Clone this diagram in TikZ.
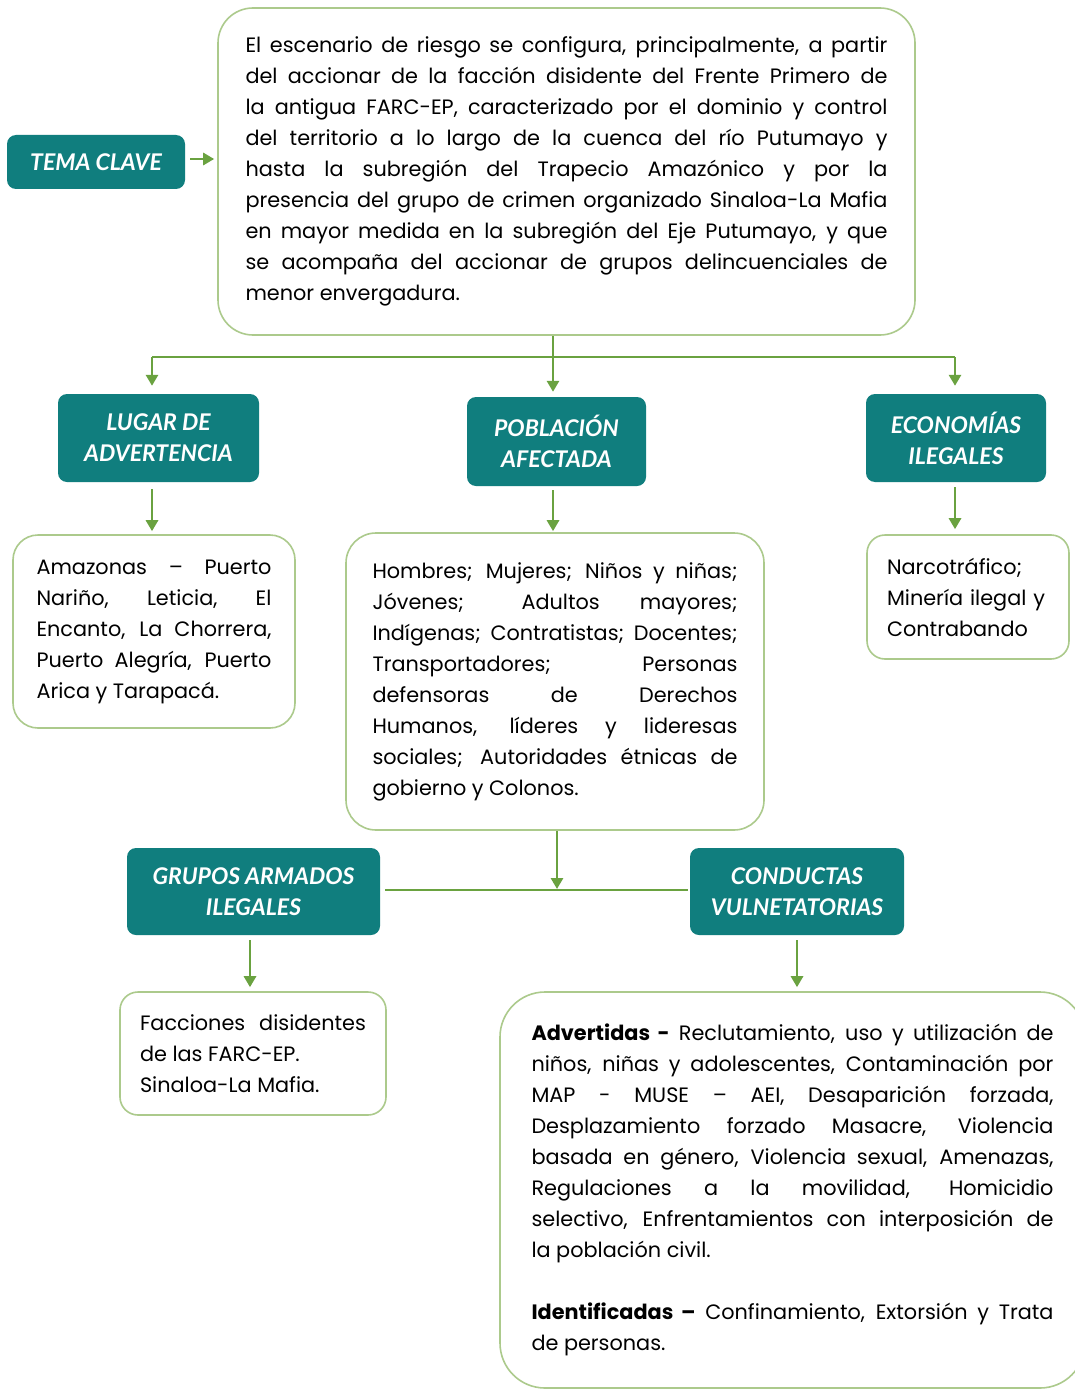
\documentclass[tikz,border=0pt]{standalone}
\usepackage{fontspec}
\setmainfont{Poppins}
\newfontfamily\headfont{Lato}
\usetikzlibrary{arrows.meta}
\definecolor{teal1}{RGB}{16,126,126}
\definecolor{arrowgreen}{RGB}{106,162,64}
\definecolor{boxgreen}{RGB}{172,202,140}
\tolerance=10000
\hyphenpenalty=10000
\begin{document}
\begin{tikzpicture}[x=1pt,y=-1pt,
 head/.style={fill=teal1, rounded corners=9pt, text=white, font=\headfont\bfseries\itshape\fontsize{23}{31}\selectfont, align=center, inner sep=0pt},
 txtbox/.style={draw=boxgreen, line width=1.6pt, fill=white, font=\fontsize{20.8}{31}\selectfont, align=justify, inner xsep=0pt, inner ysep=0pt},
 arr/.style={draw=arrowgreen, line width=2.8pt, -{Triangle[width=12pt,length=11pt]}},
 ln/.style={draw=arrowgreen, line width=2.8pt}]
\useasboundingbox (0,0) rectangle (1075,1391);
\clip (0,0) rectangle (1075,1391);
\fill[white] (0,0) rectangle (1075,1391);

% header boxes
\node[head, minimum width=178pt, minimum height=54pt] (tema) at (96,162) {TEMA CLAVE};
\node[head, minimum width=201pt, minimum height=88pt] (lugar) at (158.5,438) {LUGAR DE\\ADVERTENCIA};
\node[head, minimum width=179pt, minimum height=89pt] (pob) at (556.5,441.5) {POBLACIÓN\\AFECTADA};
\node[head, minimum width=180pt, minimum height=88pt] (eco) at (956,438) {ECONOMÍAS\\ILEGALES};
\node[head, minimum width=253pt, minimum height=87pt] (grupos) at (253.5,891.5) {GRUPOS ARMADOS\\ILEGALES};
\node[head, minimum width=214pt, minimum height=87pt] (conductas) at (797,891.5) {CONDUCTAS\\VULNETATORIAS};

% text boxes
\node[txtbox, rounded corners=35pt, minimum width=697pt, minimum height=327pt, text width=642pt] (top) at (566.5,171.5)
{El escenario de riesgo se configura, principalmente, a partir\linebreak
del accionar de la facción disidente del Frente Primero de\linebreak
la antigua FARC-EP, caracterizado por el dominio y control\linebreak
del territorio a lo largo de la cuenca del río Putumayo y\linebreak
hasta la subregión del Trapecio Amazónico y por la\linebreak
presencia del grupo de crimen organizado Sinaloa-La Mafia\linebreak
en mayor medida en la subregión del Eje Putumayo, y que\linebreak
se acompaña del accionar de grupos delincuenciales de\linebreak
menor envergadura.};

\node[txtbox, rounded corners=25pt, minimum width=282pt, minimum height=193pt, text width=235pt] (amaz) at (154,631.5)
{Amazonas – Puerto\linebreak
Nariño, Leticia, El\linebreak
Encanto, La Chorrera,\linebreak
Puerto Alegría, Puerto\linebreak
Arica y Tarapacá.};

\node[txtbox, rounded corners=30pt, minimum width=418pt, minimum height=297pt, text width=365pt] (homb) at (555,681.5)
{Hombres; Mujeres; Niños y niñas;\linebreak
Jóvenes; Adultos mayores;\linebreak
Indígenas; Contratistas; Docentes;\linebreak
Transportadores; Personas\linebreak
defensoras de Derechos\linebreak
Humanos, líderes y lideresas\linebreak
sociales; Autoridades étnicas de\linebreak
gobierno y Colonos.};

\node[txtbox, align=left, rounded corners=18pt, minimum width=202pt, minimum height=124pt, text width=162pt] (narco) at (968,597)
{Narcotráfico;\\ Minería ilegal y\\ Contrabando};

\node[txtbox, rounded corners=18pt, minimum width=266pt, minimum height=123pt, text width=226pt] (facc) at (253,1053.5)
{Facciones disidentes\linebreak
de las FARC-EP.\newline
Sinaloa-La Mafia.};

\node[txtbox, rounded corners=45pt, minimum width=585pt, minimum height=396pt, text width=522pt] (cond) at (792.5,1190)
{\textbf{Advertidas -} Reclutamiento, uso y utilización de\linebreak
niños, niñas y adolescentes, Contaminación por\linebreak
MAP - MUSE – AEI, Desaparición forzada,\linebreak
Desplazamiento forzado Masacre, Violencia\linebreak
basada en género, Violencia sexual, Amenazas,\linebreak
Regulaciones a la movilidad, Homicidio\linebreak
selectivo, Enfrentamientos con interposición de\linebreak
la población civil.\par\vskip31pt
\textbf{Identificadas –} Confinamiento, Extorsión y Trata\linebreak
de personas.};

% helper coordinates
\coordinate (j1) at (553,357);
\coordinate (hl) at (152,357);
\coordinate (hr) at (955,357);
\coordinate (j2) at (557,890);
\coordinate (g1) at (250,0);
\coordinate (c1) at (797,0);

% connectors
\draw[arr, shorten <=5pt, shorten >=3pt] (tema.east |- 0,159) -- (top.west |- 0,159);
\draw[ln] (hl) -- (hr);
\draw[arr, shorten >=5pt] (j1 |- top.south) -- (j1 |- pob.north);
\draw[arr, shorten >=8pt] (hl) -- (hl |- lugar.north);
\draw[arr, shorten >=8pt] (hr) -- (hr |- eco.north);
\draw[arr, shorten <=7pt, shorten >=3pt] (hl |- lugar.south) -- (hl |- amaz.north);
\draw[arr, shorten <=4pt, shorten >=1pt] (j1 |- pob.south) -- (j1 |- homb.north);
\draw[arr, shorten <=5pt, shorten >=5pt] (hr |- eco.south) -- (hr |- narco.north);
\draw[ln, shorten <=5pt, shorten >=2pt] (grupos.east |- j2) -- (conductas.west |- j2);
\draw[arr, shorten >=1pt] (j2 |- homb.south) -- (j2);
\draw[arr, shorten <=5pt, shorten >=4pt] (g1 |- grupos.south) -- (g1 |- facc.north);
\draw[arr, shorten <=5pt, shorten >=4pt] (c1 |- conductas.south) -- (c1 |- cond.north);
\end{tikzpicture}
\end{document}
